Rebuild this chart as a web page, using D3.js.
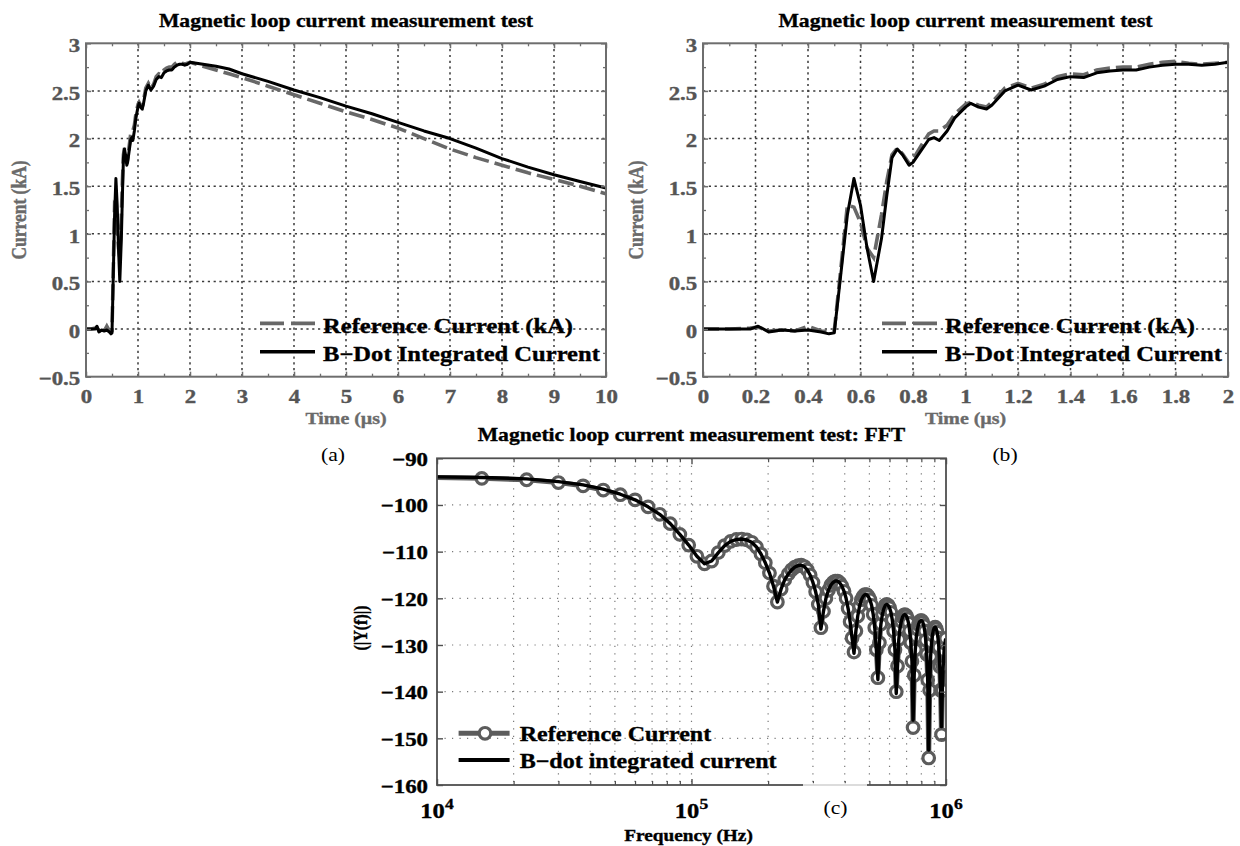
<!DOCTYPE html>
<html>
<head>
<meta charset="utf-8">
<script src="https://cdn.jsdelivr.net/npm/d3@7"></script>
<style>
  body { margin: 0; background: #fff; }
  svg { display: block; }
  text { font-family: "Liberation Serif", "Times New Roman", serif; }
</style>
</head>
<body>
<svg id="fig" width="1240" height="846"></svg>
<script>
// ---- time-domain record (µs, kA) ----
const timeUs = [0, 0.1, 0.18, 0.21, 0.25, 0.3, 0.35, 0.4, 0.45, 0.48, 0.5, 0.52, 0.55, 0.575, 0.6, 0.625, 0.65,
  0.68, 0.7, 0.72, 0.74, 0.76, 0.785, 0.8, 0.83, 0.86, 0.88, 0.9, 0.93, 0.96, 1.0, 1.02, 1.05, 1.08, 1.1, 1.15,
  1.2, 1.25, 1.3, 1.35, 1.4, 1.45, 1.5, 1.55, 1.6, 1.65, 1.7, 1.75, 1.8, 1.85, 1.9, 1.95, 2.0, 2.25, 2.5, 2.75,
  3, 3.5, 4, 4.5, 5, 5.5, 6, 6.5, 7, 7.5, 8, 8.5, 9, 9.5, 10];
const referenceCurrent = [0, 0, 0.01, 0.02, -0.02, -0.01, -0.02, 0.03, -0.02, -0.03, -0.02, 0.5, 1.3, 1.28, 1.12, 0.85, 0.75,
  1.2, 1.55, 1.83, 1.9, 1.84, 1.74, 1.78, 1.92, 2.05, 2.08, 2.08, 2.14, 2.26, 2.36, 2.38, 2.35, 2.33, 2.38, 2.53,
  2.58, 2.53, 2.57, 2.65, 2.68, 2.67, 2.72, 2.74, 2.75, 2.75, 2.78, 2.8, 2.81, 2.79, 2.78, 2.79, 2.8, 2.76, 2.72, 2.68,
  2.64, 2.55, 2.46, 2.37, 2.28, 2.2, 2.11, 2.0, 1.89, 1.8, 1.72, 1.64, 1.57, 1.5, 1.42];
const bdotCurrent = [0, 0, 0, 0.03, -0.03, -0.01, -0.02, -0.01, -0.03, -0.05, -0.04, 0.45, 1.2, 1.58, 1.3, 0.85, 0.5,
  0.95, 1.4, 1.8, 1.89, 1.83, 1.72, 1.75, 1.87, 1.99, 2.01, 1.98, 2.08, 2.22, 2.33, 2.37, 2.33, 2.31, 2.35, 2.5,
  2.56, 2.51, 2.55, 2.62, 2.65, 2.64, 2.69, 2.71, 2.72, 2.72, 2.75, 2.77, 2.78, 2.78, 2.77, 2.78, 2.8, 2.78, 2.76, 2.73,
  2.68, 2.6, 2.51, 2.43, 2.34, 2.26, 2.17, 2.08, 2.0, 1.9, 1.79, 1.7, 1.62, 1.55, 1.48];

// ---- spectrum (kHz, dB) ----
const freqKHz = [7.5, 15, 22.5, 30, 37.5, 45, 52.5, 60, 67.5, 75, 82.5, 90, 97.5, 105, 112.5, 120, 127.5, 135, 142.5, 150,
  157.5, 165, 172.5, 180, 187.5, 195, 202.5, 210, 217.5, 225, 232.5, 240, 247.5, 255, 262.5, 270, 277.5, 285, 292.5, 300,
  307.5, 315, 322.5, 330, 337.5, 345, 352.5, 360, 367.5, 375, 382.5, 390, 397.5, 405, 412.5, 420, 427.5, 435, 442.5, 450,
  457.5, 465, 472.5, 480, 487.5, 495, 502.5, 510, 517.5, 525, 532.5, 540, 547.5, 555, 562.5, 570, 577.5, 585, 592.5, 600,
  607.5, 615, 622.5, 630, 637.5, 645, 652.5, 660, 667.5, 675, 682.5, 690, 697.5, 705, 712.5, 720, 727.5, 735, 742.5, 750,
  757.5, 765, 772.5, 780, 787.5, 795, 802.5, 810, 817.5, 825, 832.5, 840, 847.5, 855, 862.5, 870, 877.5, 885, 892.5, 900,
  907.5, 915, 922.5, 930, 937.5, 945, 952.5, 960, 967.5, 975, 982.5, 990, 997.5];
const referenceSpectrum = [-94.0, -94.3, -94.6, -95.2, -95.9, -96.8, -97.8, -98.9, -100.4, -102.0, -104.0, -106.3, -108.6,
  -111.0, -112.6, -112.0, -110.2, -108.7, -107.8, -107.4, -107.3, -107.5, -108.0, -109.0, -110.5, -112.4, -114.6, -117.4,
  -120.8, -118.0, -116.0, -114.8, -113.9, -113.3, -113.0, -112.9, -113.2, -113.9, -115.0, -116.6, -118.6, -121.3, -126.3,
  -122.8, -120.0, -118.3, -117.2, -116.6, -116.3, -116.3, -116.7, -117.4, -118.5, -120.0, -122.2, -125.0, -128.5, -131.5,
  -127.0, -123.8, -121.7, -120.3, -119.6, -119.2, -119.2, -119.6, -120.3, -121.5, -123.4, -126.3, -131.0, -137.0, -129.5,
  -125.5, -123.4, -122.2, -121.5, -121.3, -121.5, -122.0, -123.0, -124.6, -127.0, -131.0, -140.0, -134.5, -128.8, -126.3,
  -124.9, -124.0, -123.6, -123.5, -123.7, -124.3, -125.3, -127.0, -129.5, -133.5, -147.7, -136.5, -131.0, -128.2, -126.6,
  -125.6, -125.0, -124.8, -124.8, -125.1, -125.8, -127.0, -129.0, -132.0, -137.5, -154.2, -139.7, -132.5, -129.5, -127.8,
  -126.8, -126.3, -126.2, -126.5, -127.2, -128.5, -130.5, -134.6, -139.7, -149.2, -139.7, -134.6, -131.3, -129.6, -128.6];
const bdotSpectrum = [-93.9, -94.1, -94.4, -95.0, -95.7, -96.6, -97.7, -98.9, -100.4, -102.0, -104.0, -106.3, -108.6,
  -111.0, -112.6, -112.0, -110.2, -108.7, -107.8, -107.4, -107.3, -107.5, -108.0, -109.0, -110.5, -112.4, -114.6, -117.4,
  -120.8, -118.0, -116.0, -114.8, -113.9, -113.3, -113.0, -112.9, -113.2, -113.9, -115.0, -116.6, -118.6, -121.3, -126.6,
  -122.8, -120.0, -118.3, -117.2, -116.6, -116.3, -116.3, -116.7, -117.4, -118.5, -120.0, -122.2, -125.0, -128.5, -131.8,
  -127.0, -123.8, -121.7, -120.3, -119.6, -119.2, -119.2, -119.6, -120.3, -121.5, -123.4, -126.3, -131.0, -137.4, -129.5,
  -125.5, -123.4, -122.2, -121.5, -121.3, -121.5, -122.0, -123.0, -124.6, -127.0, -131.0, -140.4, -134.5, -128.8, -126.3,
  -124.9, -124.0, -123.6, -123.5, -123.7, -124.3, -125.3, -127.0, -129.5, -133.5, -146.1, -136.5, -131.0, -128.2, -126.6,
  -125.6, -125.0, -124.8, -124.8, -125.1, -125.8, -127.0, -129.0, -132.0, -137.5, -152.5, -139.7, -132.5, -129.5, -127.8,
  -126.8, -126.3, -126.2, -126.5, -127.2, -128.5, -130.5, -134.6, -139.7, -147.5, -139.7, -134.6, -131.3, -129.6, -128.6];

// ---- ticks ----
const currentTicks = [-0.5, 0, 0.5, 1, 1.5, 2, 2.5, 3];
const currentMinor = [-0.25, 0.25, 0.75, 1.25, 1.75, 2.25, 2.75];
const wideTimeTicks = [0, 1, 2, 3, 4, 5, 6, 7, 8, 9, 10];
const wideTimeMinor = [0.5, 1.5, 2.5, 3.5, 4.5, 5.5, 6.5, 7.5, 8.5, 9.5];
const zoomTimeTicks = [0, 0.2, 0.4, 0.6, 0.8, 1, 1.2, 1.4, 1.6, 1.8, 2];
const zoomTimeMinor = [0.1, 0.3, 0.5, 0.7, 0.9, 1.1, 1.3, 1.5, 1.7, 1.9];
const dbTicks = [-160, -150, -140, -130, -120, -110, -100, -90];
const freqDecades = [1e4, 1e5, 1e6];
const decadeExponents = ["4", "5", "6"];
const freqMinor = [2e4, 3e4, 4e4, 5e4, 6e4, 7e4, 8e4, 9e4, 2e5, 3e5, 4e5, 5e5, 6e5, 7e5, 8e5, 9e5];

const TITLE = "Magnetic loop current measurement test";
const legendTime = ["Reference Current (kA)", "B\u2212Dot Integrated Current"];
const legendFft = ["Reference Current", "B\u2212dot integrated current"];

// glyphs in this figure are drawn slightly wide
const SX = 1.17;
const svg = d3.select("#fig");
svg.append("rect").attr("width", 1240).attr("height", 846).attr("fill", "#fff");
const fmt = d3.format("");

function label(g, x, y, s, o) {
  const fill = o.fill || "#000";
  const t = g.append("text")
    .attr("transform", `translate(${x},${y}) scale(${SX},1)` + (o.rotate ? " rotate(-90)" : ""))
    .attr("text-anchor", o.anchor || "middle")
    .style("font-size", o.size + "px")
    .style("font-weight", o.weight || "bold")
    .attr("fill", fill)
    .text(s);
  if (o.heavy !== false && (o.weight || "bold") === "bold") {
    t.attr("stroke", fill).attr("stroke-width", 0.35);
  }
  return t;
}

function styleTickText(sel, color) {
  sel.attr("transform", `scale(${SX},1)`)
    .style("font-size", "19.5px").style("font-weight", "bold")
    .style("font-family", '"Liberation Serif", serif')
    .attr("fill", color).attr("stroke", color).attr("stroke-width", 0.4);
}

function tickRow(g, axisFn, scale, values, size, tx, ty, color, width) {
  const a = g.append("g").attr("transform", `translate(${tx},${ty})`)
    .call(axisFn(scale).tickValues(values).tickSizeInner(-size).tickSizeOuter(0).tickFormat(""));
  a.select(".domain").remove();
  a.selectAll("line").attr("stroke", color).attr("stroke-width", width);
  a.selectAll("text").remove();
}

// ---------- time-domain panels ----------
function timePanel(id, box, xDomain, xTicks, xMinor) {
  const g = svg.append("g");
  const x = d3.scaleLinear().domain(xDomain).range([box.left, box.right]);
  const y = d3.scaleLinear().domain([-0.5, 3]).range([box.bottom, box.top]);
  const frameCol = "#6e6e6e", labCol = "#555";

  // dotted grid
  g.append("g").selectAll("line").data(xTicks.slice(1, -1)).join("line")
    .attr("x1", d => x(d)).attr("x2", d => x(d)).attr("y1", box.top).attr("y2", box.bottom)
    .attr("stroke", "#3a3a3a").attr("stroke-width", 1.5).attr("stroke-dasharray", "2.2,3.6");
  g.append("g").selectAll("line").data(currentTicks.slice(1, -1)).join("line")
    .attr("y1", d => y(d)).attr("y2", d => y(d)).attr("x1", box.left).attr("x2", box.right)
    .attr("stroke", "#3a3a3a").attr("stroke-width", 1.5).attr("stroke-dasharray", "2.2,3.6");

  // traces
  g.append("clipPath").attr("id", id).append("rect")
    .attr("x", box.left).attr("y", box.top).attr("width", box.right - box.left).attr("height", box.bottom - box.top);
  const plot = g.append("g").attr("clip-path", `url(#${id})`);
  const refLine = d3.line().x((d, i) => x(timeUs[i])).y(d => y(d));
  plot.append("path").attr("d", refLine(referenceCurrent)).attr("fill", "none")
    .attr("stroke", "#686868").attr("stroke-width", 3.6).attr("stroke-dasharray", "16,6");
  plot.append("path").attr("d", refLine(bdotCurrent)).attr("fill", "none")
    .attr("stroke", "#000").attr("stroke-width", 3).attr("stroke-linejoin", "round");

  // ticks on all four sides
  tickRow(g, d3.axisBottom, x, xTicks, 5, 0, box.bottom, frameCol, 1.5);
  tickRow(g, d3.axisTop, x, xTicks, 5, 0, box.top, frameCol, 1.5);
  tickRow(g, d3.axisBottom, x, xMinor, 3, 0, box.bottom, frameCol, 1.3);
  tickRow(g, d3.axisTop, x, xMinor, 3, 0, box.top, frameCol, 1.3);
  tickRow(g, d3.axisLeft, y, currentTicks, 5, box.left, 0, frameCol, 1.5);
  tickRow(g, d3.axisRight, y, currentTicks, 5, box.right, 0, frameCol, 1.5);
  tickRow(g, d3.axisLeft, y, currentMinor, 3, box.left, 0, frameCol, 1.3);
  tickRow(g, d3.axisRight, y, currentMinor, 3, box.right, 0, frameCol, 1.3);

  g.append("rect").attr("x", box.left).attr("y", box.top)
    .attr("width", box.right - box.left).attr("height", box.bottom - box.top)
    .attr("fill", "none").attr("stroke", frameCol).attr("stroke-width", 2);

  // tick labels
  const xl = g.append("g").attr("transform", `translate(0,${box.bottom})`)
    .call(d3.axisBottom(x).tickValues(xTicks).tickSize(0).tickFormat(fmt));
  xl.select(".domain").remove();
  styleTickText(xl.selectAll("text").attr("y", 26.6).attr("dy", null), labCol);
  const yl = g.append("g").attr("transform", `translate(${box.left},0)`)
    .call(d3.axisLeft(y).tickValues(currentTicks).tickSize(0).tickPadding(5).tickFormat(fmt));
  yl.select(".domain").remove();
  styleTickText(yl.selectAll("text").attr("dy", "0.42em"), labCol);

  const cx = (box.left + box.right) / 2;
  label(g, cx, 27, TITLE, { size: 18.5 });
  label(g, cx, 423.5, "Time (\u00b5s)", { size: 17, fill: "#6a6a6a" });
  label(g, box.left - 60, (box.top + box.bottom) / 2, "Current (kA)", { size: 17.5, fill: "#6a6a6a", rotate: true });

  // legend
  const lx = box.left + box.legendOffset;
  g.append("line").attr("x1", lx).attr("x2", lx + 55).attr("y1", 323.3).attr("y2", 323.3)
    .attr("stroke", "#686868").attr("stroke-width", 3.8).attr("stroke-dasharray", "24,7");
  g.append("line").attr("x1", lx).attr("x2", lx + 55).attr("y1", 351.7).attr("y2", 351.7)
    .attr("stroke", "#000").attr("stroke-width", 3.4);
  label(g, lx + 63, 333, legendTime[0], { size: 21, anchor: "start" });
  label(g, lx + 63, 361, legendTime[1], { size: 21, anchor: "start" });
}

timePanel("clipA", { left: 86, right: 606, top: 43.3, bottom: 376.7, legendOffset: 174 }, [0, 10], wideTimeTicks, wideTimeMinor);
timePanel("clipB", { left: 703, right: 1228, top: 43.3, bottom: 376.7, legendOffset: 179 }, [0, 2], zoomTimeTicks, zoomTimeMinor);

// ---------- spectrum panel ----------
(function () {
  const box = { left: 437, right: 946, top: 458.3, bottom: 785 };
  const g = svg.append("g");
  const x = d3.scaleLog().domain([1e4, 1e6]).range([box.left, box.right]);
  const y = d3.scaleLinear().domain([-160, -90]).range([box.bottom, box.top]);
  const frameCol = "#4f4f4f";

  g.append("g").selectAll("line").data(freqMinor.concat([1e5])).join("line")
    .attr("x1", d => x(d)).attr("x2", d => x(d)).attr("y1", box.top).attr("y2", box.bottom)
    .attr("stroke", "#7a7a7a").attr("stroke-width", 1.2).attr("stroke-dasharray", "1.2,6.3");
  g.append("g").selectAll("line").data(dbTicks.slice(1, -1)).join("line")
    .attr("y1", d => y(d)).attr("y2", d => y(d)).attr("x1", box.left).attr("x2", box.right)
    .attr("stroke", "#7a7a7a").attr("stroke-width", 1.2).attr("stroke-dasharray", "1.2,6.3");

  g.append("clipPath").attr("id", "clipC").append("rect")
    .attr("x", box.left).attr("y", box.top).attr("width", box.right - box.left).attr("height", box.bottom - box.top);
  const plot = g.append("g").attr("clip-path", "url(#clipC)");
  const line = d3.line().x((d, i) => x(freqKHz[i] * 1000)).y(d => y(d));
  plot.append("path").attr("d", line(referenceSpectrum)).attr("fill", "none")
    .attr("stroke", "#5c5c5c").attr("stroke-width", 5).attr("stroke-linejoin", "round");
  plot.append("g").selectAll("circle").data(referenceSpectrum).join("circle")
    .attr("cx", (d, i) => x(freqKHz[i] * 1000)).attr("cy", d => y(d)).attr("r", 5.8)
    .attr("fill", "#fff").attr("stroke", "#5c5c5c").attr("stroke-width", 3.2);
  plot.append("path").attr("d", line(bdotSpectrum)).attr("fill", "none")
    .attr("stroke", "#000").attr("stroke-width", 3.4).attr("stroke-linejoin", "round");

  tickRow(g, d3.axisBottom, x, freqDecades, 6, 0, box.bottom, frameCol, 1.4);
  tickRow(g, d3.axisTop, x, freqDecades, 6, 0, box.top, frameCol, 1.4);
  tickRow(g, d3.axisBottom, x, freqMinor, 4, 0, box.bottom, frameCol, 1.2);
  tickRow(g, d3.axisTop, x, freqMinor, 4, 0, box.top, frameCol, 1.2);
  tickRow(g, d3.axisLeft, y, dbTicks, 6, box.left, 0, frameCol, 1.4);
  tickRow(g, d3.axisRight, y, dbTicks, 6, box.right, 0, frameCol, 1.4);

  g.append("rect").attr("x", box.left).attr("y", box.top)
    .attr("width", box.right - box.left).attr("height", box.bottom - box.top)
    .attr("fill", "none").attr("stroke", frameCol).attr("stroke-width", 1.8);
  // subfigure caption box overlapping the lower axis
  g.append("rect").attr("x", 803).attr("y", 783).attr("width", 64).attr("height", 4)
    .attr("fill", "#fff").attr("opacity", 0.78);

  const yl = g.append("g").attr("transform", `translate(${box.left},0)`)
    .call(d3.axisLeft(y).tickValues(dbTicks).tickSize(0).tickPadding(7.7).tickFormat(fmt));
  yl.select(".domain").remove();
  styleTickText(yl.selectAll("text").attr("dy", "0.36em"), "#000");

  freqDecades.forEach((d, i) => {
    const t = label(g, x(d), 818, "10", { size: 21 });
    t.append("tspan").attr("dy", -9).style("font-size", "15px").text(decadeExponents[i]);
  });

  label(g, (box.left + box.right) / 2, 441, TITLE + ": FFT", { size: 18.5 });
  label(g, (box.left + box.right) / 2 - 3, 841, "Frequency (Hz)", { size: 16.5 });
  label(g, 367, 628, "(|Y(f)|)", { size: 16, rotate: true });

  // legend
  g.append("line").attr("x1", 458.6).attr("x2", 509.6).attr("y1", 733.3).attr("y2", 733.3)
    .attr("stroke", "#5c5c5c").attr("stroke-width", 5);
  g.append("circle").attr("cx", 485).attr("cy", 733.3).attr("r", 5.8)
    .attr("fill", "#fff").attr("stroke", "#5c5c5c").attr("stroke-width", 3.2);
  g.append("line").attr("x1", 458.6).attr("x2", 509.6).attr("y1", 760).attr("y2", 760)
    .attr("stroke", "#000").attr("stroke-width", 3.8);
  label(g, 519.7, 741, legendFft[0], { size: 20.5, anchor: "start" });
  label(g, 519.7, 768, legendFft[1], { size: 20.5, anchor: "start" });
})();

// subfigure captions
label(svg, 333, 461, "(a)", { size: 18.5, weight: "normal" });
label(svg, 1005, 461, "(b)", { size: 18.5, weight: "normal" });
label(svg, 835.5, 814, "(c)", { size: 18.5, weight: "normal" });
</script>
</body>
</html>
